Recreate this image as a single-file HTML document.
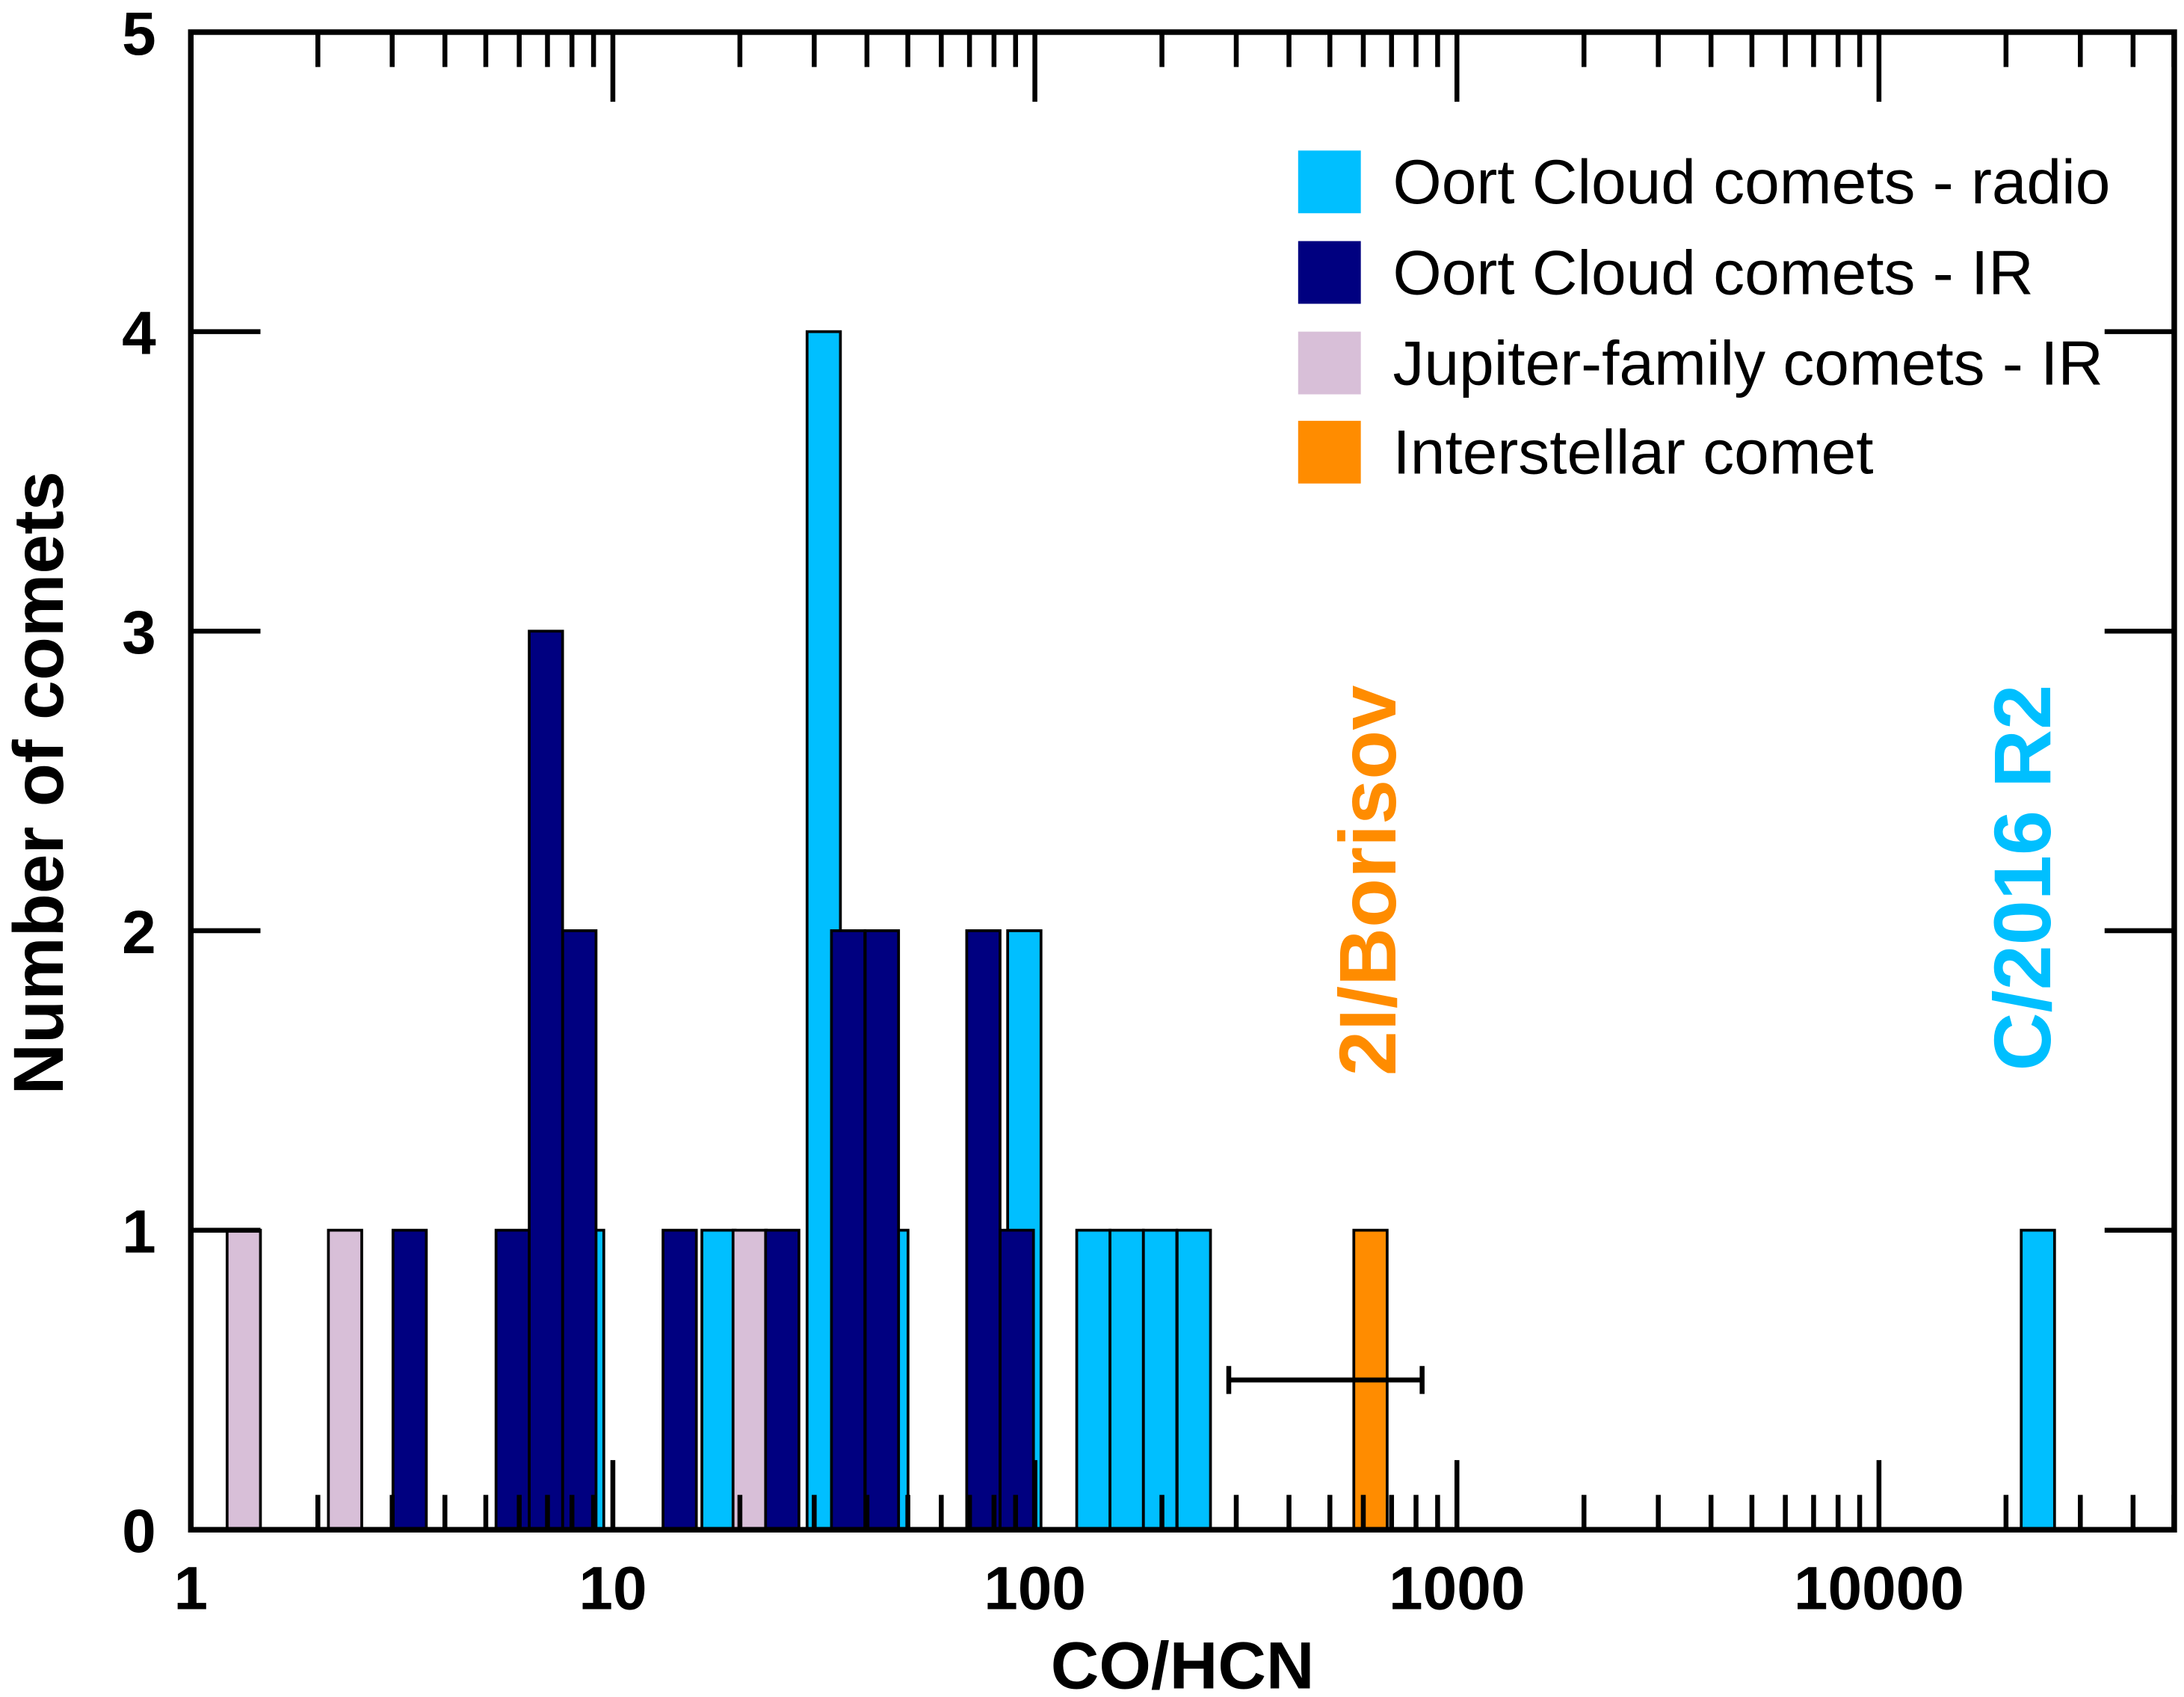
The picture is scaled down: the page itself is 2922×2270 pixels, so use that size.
<!DOCTYPE html>
<html><head><meta charset="utf-8"><style>
html,body{margin:0;padding:0;background:#fff}
svg{display:block}
text{font-family:"Liberation Sans",Arial,sans-serif}
</style></head><body>
<svg id="chart" width="2922" height="2270" viewBox="0 0 1568 1218" xmlns="http://www.w3.org/2000/svg">
<g id="bars"></g>
<g id="axes"></g>
<g>
<rect x="932" y="108" width="45" height="45" fill="#00BFFF"/>
<text x="1000" y="146" font-size="45">Oort Cloud comets - radio</text>
<rect x="932" y="173" width="45" height="45" fill="#000080"/>
<text x="1000" y="211" font-size="45">Oort Cloud comets - IR</text>
<rect x="932" y="238" width="45" height="45" fill="#D8BFD8"/>
<text x="1000" y="276" font-size="45">Jupiter-family comets - IR</text>
<rect x="932" y="302" width="45" height="45" fill="#FF8C00"/>
<text x="1000" y="340" font-size="45">Interstellar comet</text>
</g>
<text transform="translate(1002,632) rotate(-90)" text-anchor="middle" font-size="58" font-weight="bold" fill="#FF8C00">2I/Borisov</text>
<text transform="translate(1472,630) rotate(-90)" text-anchor="middle" font-size="58" font-weight="bold" fill="#00BFFF">C/2016 R2</text>
<text x="849" y="1212" text-anchor="middle" font-size="48" font-weight="bold">CO/HCN</text>
<text transform="translate(45,562) rotate(-90)" text-anchor="middle" font-size="51" font-weight="bold">Number of comets</text>
</svg>
<script>
const radioValues=[8.69,17.8,31.6,45.7,94.4,137.6,165,198,238,23800];
const radioCounts=[1,1,4,1,2,1,1,1,1,1];
const irValues=[3.30,5.79,6.94,8.33,14.4,25.2,36.1,43.4,75.5,90.6];
const irCounts=[1,1,3,2,1,1,2,2,2,1];
const jfcValues=[1.335,2.32,21.1];
const jfcCounts=[1,1,1];
const isValues=[624];
const isCounts=[1];
const isErrLow=[288];
const isErrHigh=[827];
const xTickValues=[1,10,100,1000,10000];
const xTickLabels=["1","10","100","1000","10000"];
const yTickValues=[0,1,2,3,4,5];

const L=137,R=1561,T=23,B=1098,DEC=303,BW=0.079;
const X=v=>L+Math.log10(v)*DEC;
const Y=c=>B-c*(B-T)/5;
const NS="http://www.w3.org/2000/svg";
const bars=document.getElementById('bars'),axes=document.getElementById('axes');
function mk(tag,attrs,parent){const e=document.createElementNS(NS,tag);for(const k in attrs)e.setAttribute(k,attrs[k]);parent.appendChild(e);return e;}
function drawSeries(vals,counts,color,name){
  vals.forEach((v,i)=>{
    const x0=L+(Math.log10(v)-BW/2)*DEC,x1=L+(Math.log10(v)+BW/2)*DEC;
    const r=mk('rect',{x:x0,y:Y(counts[i]),width:x1-x0,height:B-Y(counts[i]),fill:color,stroke:'#000','stroke-width':2},bars);
    
    
  });
}
drawSeries(radioValues,radioCounts,'#00BFFF','radio');
drawSeries(jfcValues,jfcCounts,'#D8BFD8','jfc');
drawSeries(irValues,irCounts,'#000080','ir');
drawSeries(isValues,isCounts,'#FF8C00','interstellar');
isValues.forEach((v,i)=>{
  const y=Y(isCounts[i]/2);
  const g=mk('g',{stroke:'#000','stroke-width':3.5},bars);
  
  
  mk('line',{x1:X(isErrLow[i]),x2:X(isErrHigh[i]),y1:y,y2:y},g);
  mk('line',{x1:X(isErrLow[i]),x2:X(isErrLow[i]),y1:y-10,y2:y+10},g);
  mk('line',{x1:X(isErrHigh[i]),x2:X(isErrHigh[i]),y1:y-10,y2:y+10},g);
});
const fr=mk('rect',{x:L,y:T,width:R-L,height:B-T,fill:'none',stroke:'#000','stroke-width':4},axes);


for(let d=0;d<5;d++){for(let m=1;m<10;m++){const v=Math.pow(10,d)*m;const x=X(v);if(x>R)continue;
  const len=m===1?50:25;
  mk('line',{x1:x,x2:x,y1:B,y2:B-len,stroke:'#000','stroke-width':3.5},axes);
  mk('line',{x1:x,x2:x,y1:T,y2:T+len,stroke:'#000','stroke-width':3.5},axes);
}}
xTickValues.forEach((v,i)=>{
  const t=mk('text',{x:X(v),y:1155,'text-anchor':'middle','font-size':44,'font-weight':'bold'},axes);
  t.textContent=xTickLabels[i];
  
  
});
yTickValues.forEach(c=>{
  const y=Y(c);
  mk('line',{x1:L,x2:L+50,y1:y,y2:y,stroke:'#000','stroke-width':3.5},axes);
  mk('line',{x1:R,x2:R-50,y1:y,y2:y,stroke:'#000','stroke-width':3.5},axes);
  const t=mk('text',{x:112,y:y+16,'text-anchor':'end','font-size':44,'font-weight':'bold'},axes);
  t.textContent=String(c);
  
  
});
</script>
</body></html>
